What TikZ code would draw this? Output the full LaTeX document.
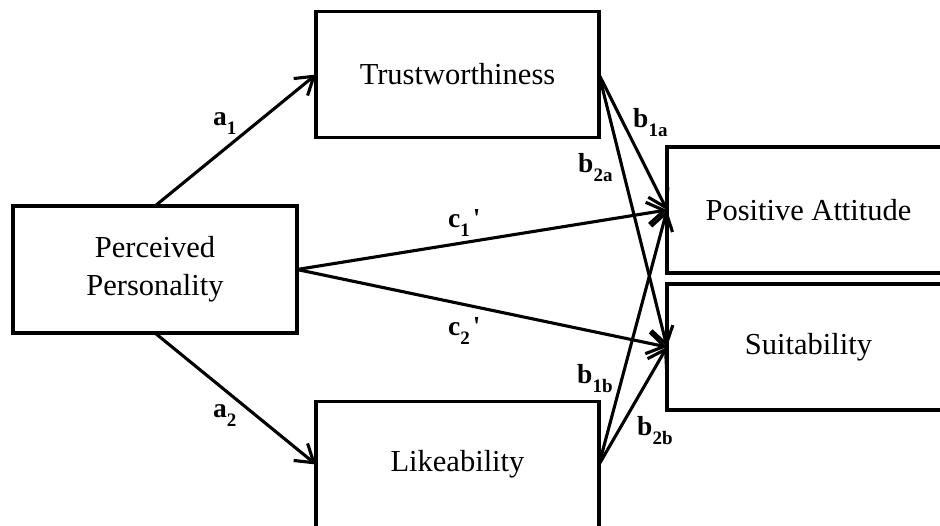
\documentclass[tikz,border=0pt]{standalone}
\usepackage{fontspec}
\setmainfont{Liberation Serif}
\usetikzlibrary{arrows.meta}
\newcommand{\plabel}[2]{\fontsize{27.5}{27.5}\selectfont\bfseries #1\raisebox{-9pt}{\fontsize{19}{19}\selectfont #2}}
\begin{document}
\begin{tikzpicture}[x=1pt,y=-1pt,
  box/.style={draw, line width=3.4pt, minimum width=283pt, minimum height=126pt,
    inner sep=0pt, outer sep=0pt, font=\fontsize{30.5}{38}\selectfont, align=center},
  arr/.style={line width=3.1pt, -{Straight Barb[length=17pt,width=22pt]}},
  lab/.style={inner sep=0pt, anchor=base west}]
\useasboundingbox (0,0) rectangle (940,525);
\clip (0,0) rectangle (940,525);
\node[box, minimum width=284pt, minimum height=127pt] (pp) at (155,269.5) {Perceived\\Personality};
\node[box] (tr) at (457.5,74.5) {Trustworthiness};
\node[box] (li) at (457.5,464.5) {Likeability};
\node[box] (pa) at (808.5,210) {Positive Attitude};
\node[box] (su) at (808.5,347) {Suitability};
\draw[arr] (pp.north) -- (tr.west);
\draw[arr] (pp.south) -- (li.west);
\draw[arr] (pp.east) -- (pa.west);
\draw[arr] (pp.east) -- (su.west);
\draw[arr] (tr.east) -- (pa.west);
\draw[arr] (tr.east) -- (su.west);
\draw[arr] (li.east) -- (pa.west);
\draw[arr] (li.east) -- (su.west);
\node[lab] (la1) at (213,125) {\plabel{a}{1}};
\node[lab] (la2) at (213,417) {\plabel{a}{2}};
\node[lab] (lc1) at (448,227) {\plabel{c}{1}\hspace{3pt}\textquotesingle};
\node[lab] (lc2) at (448,335) {\plabel{c}{2}\hspace{3pt}\textquotesingle};
\node[lab] (lb1a) at (633,127) {\plabel{b}{1a}};
\node[lab] (lb2a) at (578,172) {\plabel{b}{2a}};
\node[lab] (lb1b) at (577,383) {\plabel{b}{1b}};
\node[lab] (lb2b) at (637,435) {\plabel{b}{2b}};
\end{tikzpicture}
\end{document}
